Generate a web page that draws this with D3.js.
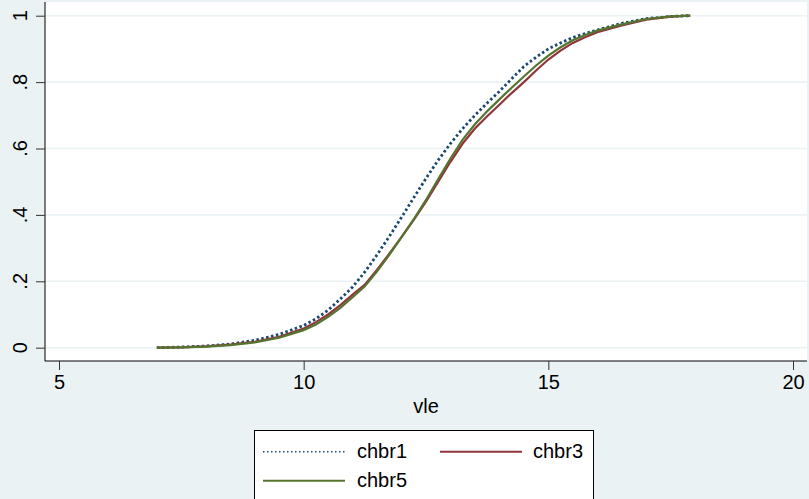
<!DOCTYPE html>
<html>
<head>
<meta charset="utf-8">
<script src="https://cdn.jsdelivr.net/npm/d3@7"></script>
<style>
  body { margin: 0; background: #eaf2f3; }
  svg { display: block; font-family: "Liberation Sans", Arial, sans-serif; }
</style>
</head>
<body>
<div id="chart"></div>
<script>
// vle values where the cumulative shares were read
var vle = [7, 7.5, 8, 8.5, 9, 9.5, 10, 10.25, 10.5, 10.75, 11, 11.25, 11.5, 11.75,
           12, 12.25, 12.5, 12.75, 13, 13.25, 13.5, 13.75, 14, 14.25, 14.5, 14.75,
           15, 15.25, 15.5, 15.75, 16, 16.5, 17, 17.5, 17.9];

var chbr1 = [0, 0.002, 0.005, 0.011, 0.022, 0.04, 0.067, 0.087, 0.113, 0.147, 0.183, 0.228, 0.28, 0.335,
             0.393, 0.452, 0.51, 0.565, 0.615, 0.66, 0.7, 0.737, 0.772, 0.81, 0.847, 0.875,
             0.9, 0.918, 0.934, 0.946, 0.957, 0.977, 0.991, 0.998, 1];
var chbr3 = [0, 0.001, 0.004, 0.009, 0.018, 0.033, 0.058, 0.077, 0.1, 0.128, 0.16, 0.19, 0.235, 0.283,
             0.333, 0.385, 0.44, 0.5, 0.56, 0.615, 0.66, 0.697, 0.732, 0.767, 0.8, 0.835,
             0.868, 0.895, 0.918, 0.935, 0.95, 0.971, 0.988, 0.997, 1];
var chbr5 = [0, 0.001, 0.003, 0.008, 0.016, 0.03, 0.053, 0.07, 0.093, 0.12, 0.152, 0.185, 0.23, 0.28,
             0.333, 0.387, 0.445, 0.508, 0.57, 0.627, 0.673, 0.712, 0.748, 0.783, 0.817, 0.85,
             0.88, 0.905, 0.926, 0.942, 0.955, 0.974, 0.99, 0.998, 1];

var xTicks = [5, 10, 15, 20];
var yTicks = [0, 0.2, 0.4, 0.6, 0.8, 1];
var yTickLabels = ["0", ".2", ".4", ".6", ".8", "1"];

var seriesNames = ["chbr1", "chbr3", "chbr5"];

var w = 809, h = 499;
var bg = "#eaf2f3";
var colors = {chbr1: "#1a476f", chbr3: "#90353b", chbr5: "#55752f"};

var svg = d3.select("#chart").append("svg")
    .attr("width", w)
    .attr("height", h);

svg.append("rect").attr("width", w).attr("height", h).attr("fill", bg);

// plot region
var plot = {left: 45, right: 807, top: 2, bottom: 361};
svg.append("rect")
    .attr("x", plot.left).attr("y", plot.top)
    .attr("width", plot.right - plot.left).attr("height", plot.bottom - plot.top)
    .attr("fill", "#ffffff");

var x = d3.scaleLinear().domain([5, 20]).range([59, 793]);
var y = d3.scaleLinear().domain([0, 1]).range([347.7, 15.7]);

// gridlines
svg.append("g")
    .selectAll("line")
    .data(yTicks)
    .enter().append("line")
    .attr("x1", plot.left).attr("x2", plot.right)
    .attr("y1", d => y(d)).attr("y2", d => y(d))
    .attr("stroke", bg)
    .attr("stroke-width", 1.6);

// y axis
var yAxis = svg.append("g")
    .attr("transform", "translate(" + plot.left + ",0)")
    .call(d3.axisLeft(y).tickValues(yTicks).tickSize(9).tickFormat(""));
yAxis.select(".domain").attr("d", "M0," + plot.top + "V" + plot.bottom).attr("stroke", "#000");
yAxis.selectAll(".tick line").attr("stroke", "#333");

svg.append("g").selectAll("text")
    .data(yTicks)
    .enter().append("text")
    .attr("transform", (d, i) => "translate(27," + y(d) + ") rotate(-90)")
    .attr("text-anchor", "middle")
    .attr("font-size", "20px")
    .attr("fill", "#000")
    .text((d, i) => yTickLabels[i]);

// x axis
var xAxis = svg.append("g")
    .attr("transform", "translate(0," + plot.bottom + ")")
    .call(d3.axisBottom(x).tickValues(xTicks).tickSize(9).tickPadding(5).tickFormat(d3.format("d")));
xAxis.select(".domain").attr("d", "M" + plot.left + ",0H" + plot.right).attr("stroke", "#000");
xAxis.selectAll(".tick line").attr("stroke", "#333");
xAxis.selectAll(".tick text")
    .attr("font-size", "20px")
    .attr("font-family", "Liberation Sans, Arial, sans-serif")
    .attr("fill", "#000");

svg.append("text")
    .attr("x", (plot.left + plot.right) / 2)
    .attr("y", 412.5)
    .attr("text-anchor", "middle")
    .attr("font-size", "20px")
    .text("vle");

// curves
var data = {chbr1: chbr1, chbr3: chbr3, chbr5: chbr5};
var line = d3.line()
    .x(d => x(d[0]))
    .y(d => y(d[1]));

seriesNames.forEach(function(name) {
    var pts = vle.map((v, i) => [v, data[name][i]]);
    var path = svg.append("path")
        .datum(pts)
        .attr("fill", "none")
        .attr("stroke", colors[name])
        .attr("stroke-width", name === "chbr1" ? 2.8 : 2.2)
        .attr("d", line);
    if (name === "chbr1") path.attr("stroke-dasharray", "2.5,2.5");
});

// legend
var legend = svg.append("g");
legend.append("rect")
    .attr("x", 254.5).attr("y", 430.5)
    .attr("width", 339).attr("height", 80)
    .attr("fill", "#ffffff")
    .attr("stroke", "#000")
    .attr("stroke-width", 1);

var legendPos = [
    {name: "chbr1", lx: 263, tx: 357, ly: 451.7, ty: 458},
    {name: "chbr3", lx: 440, tx: 533, ly: 451.7, ty: 458},
    {name: "chbr5", lx: 263, tx: 357, ly: 480.7, ty: 487}
];
legendPos.forEach(function(p) {
    var l = legend.append("line")
        .attr("x1", p.lx).attr("x2", p.lx + 82)
        .attr("y1", p.ly).attr("y2", p.ly)
        .attr("stroke", colors[p.name])
        .attr("stroke-width", p.name === "chbr1" ? 1.5 : 2);
    if (p.name === "chbr1") l.attr("stroke-dasharray", "1.5,2.5");
    legend.append("text")
        .attr("x", p.tx).attr("y", p.ty)
        .attr("font-size", "20px")
        .text(p.name);
});
</script>
</body>
</html>
